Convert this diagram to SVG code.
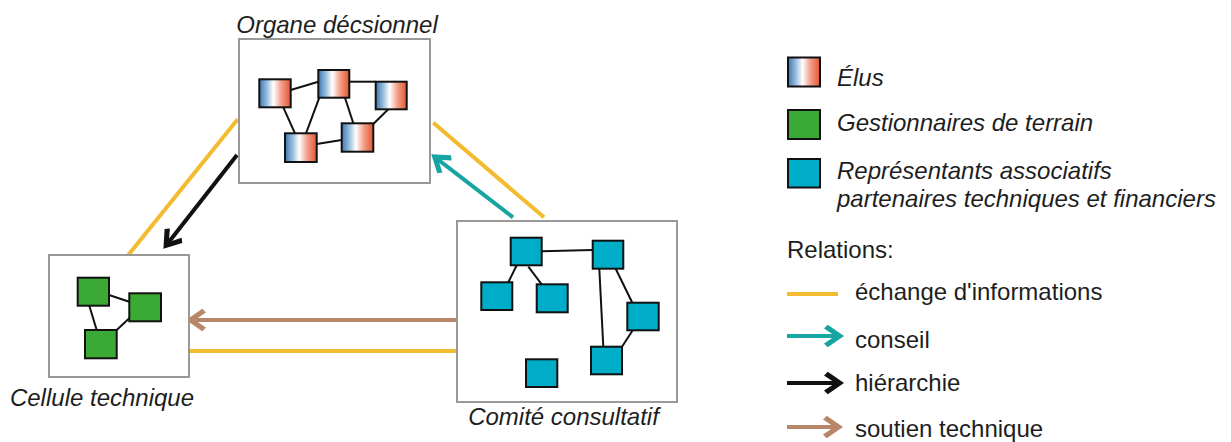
<svg xmlns="http://www.w3.org/2000/svg" width="1231" height="442" viewBox="0 0 1231 442">
<style>
text{font-family:"Liberation Sans",Arial,sans-serif;font-size:24px;fill:#1e1e1e}
.it{font-style:italic}
.box{fill:#fff;stroke:#999;stroke-width:2}
.el{fill:url(#grad);stroke:#111;stroke-width:2}
.gr{fill:#3aaa35;stroke:#111;stroke-width:2}
.tq{fill:#00adc9;stroke:#111;stroke-width:2}
.ln{stroke:#111;stroke-width:2;fill:none}
.y{stroke:#f2bb30;stroke-width:4;fill:none}
.t{stroke:#17a5a1;stroke-width:4;fill:none}
.k{stroke:#111;stroke-width:4;fill:none}
.b{stroke:#b8876a;stroke-width:4;fill:none}
</style>
<defs>
<linearGradient id="grad" x1="0" y1="0" x2="1" y2="0">
<stop offset="0" stop-color="#3a78b4"/>
<stop offset="0.25" stop-color="#9cc0de"/>
<stop offset="0.45" stop-color="#ffffff"/>
<stop offset="0.7" stop-color="#f2a08a"/>
<stop offset="1" stop-color="#e4542f"/>
</linearGradient>
<marker id="aT" markerUnits="userSpaceOnUse" markerWidth="30" markerHeight="30" refX="-4" refY="0" viewBox="-20 -12 24 24" orient="auto"><polygon points="0,0 -13,-9 -16,-6 -7,0 -16,6 -13,9" fill="#17a5a1"/></marker>
<marker id="aK" markerUnits="userSpaceOnUse" markerWidth="30" markerHeight="30" refX="-4" refY="0" viewBox="-20 -12 24 24" orient="auto"><polygon points="0,0 -13,-9 -16,-6 -7,0 -16,6 -13,9" fill="#111"/></marker>
<marker id="aB" markerUnits="userSpaceOnUse" markerWidth="30" markerHeight="30" refX="-4" refY="0" viewBox="-20 -12 24 24" orient="auto"><polygon points="0,0 -13,-9 -16,-6 -7,0 -16,6 -13,9" fill="#b8876a"/></marker>
</defs>

<g id="connectors">
<line class="y" x1="237.7" y1="119.3" x2="128.3" y2="255"/>
<line class="k" x1="237" y1="155" x2="166.5" y2="244.9" marker-end="url(#aK)"/>
<line class="y" x1="433.3" y1="122.7" x2="544" y2="217.3"/>
<line class="t" x1="513" y1="217.3" x2="435.2" y2="157.4" marker-end="url(#aT)"/>
<line class="b" x1="457" y1="320" x2="191" y2="320" marker-end="url(#aB)"/>
<line class="y" x1="189" y1="351" x2="457" y2="351"/>
</g>

<g id="organe">
<rect class="box" x="239" y="39" width="191" height="144"/>
<g class="ln">
<line x1="290.7" y1="90" x2="318.3" y2="81.7"/>
<line x1="283.3" y1="107.3" x2="295" y2="133.3"/>
<line x1="319.3" y1="97.7" x2="306" y2="133.3"/>
<line x1="345" y1="97.7" x2="353.3" y2="123.3"/>
<line x1="349.3" y1="81.7" x2="375.7" y2="81.7"/>
<line x1="388.3" y1="109.3" x2="373.3" y2="124"/>
<line x1="316.7" y1="144" x2="341.7" y2="140"/>
</g>
<rect class="el" x="259.3" y="79.3" width="31.4" height="28"/>
<rect class="el" x="318.3" y="70" width="31" height="27.7"/>
<rect class="el" x="375.7" y="81.7" width="31" height="27.6"/>
<rect class="el" x="285" y="133.3" width="31.7" height="28.7"/>
<rect class="el" x="341.7" y="123.3" width="31.6" height="28.4"/>
<text class="it" x="337" y="33" text-anchor="middle">Organe décsionnel</text>
</g>

<g id="comite">
<rect class="box" x="457" y="221" width="220" height="181"/>
<g class="ln">
<line x1="541.7" y1="251.3" x2="592.7" y2="250"/>
<line x1="516.7" y1="265.3" x2="508.3" y2="282.3"/>
<line x1="528.3" y1="266.7" x2="541.7" y2="284.3"/>
<line x1="599.3" y1="268.7" x2="603.3" y2="346.7"/>
<line x1="615.7" y1="268.7" x2="632.3" y2="302.7"/>
<line x1="632.7" y1="330.3" x2="622" y2="346.7"/>
</g>
<rect class="tq" x="510.7" y="237.7" width="31" height="27.6"/>
<rect class="tq" x="592.7" y="240.7" width="30.6" height="28"/>
<rect class="tq" x="481.3" y="282.3" width="31" height="27.7"/>
<rect class="tq" x="536.7" y="284.3" width="31" height="28"/>
<rect class="tq" x="627.3" y="302.7" width="31.4" height="27.6"/>
<rect class="tq" x="591" y="346.7" width="31" height="27.6"/>
<rect class="tq" x="526" y="359.3" width="31.3" height="27.7"/>
<text class="it" x="563.5" y="425" text-anchor="middle">Comité consultatif</text>
</g>

<g id="cellule">
<rect class="box" x="49" y="255" width="140" height="122"/>
<g class="ln">
<line x1="109" y1="295" x2="129.3" y2="301.7"/>
<line x1="89.3" y1="305.7" x2="96.7" y2="330"/>
<line x1="129.3" y1="318.3" x2="116.7" y2="330"/>
</g>
<rect class="gr" x="77.7" y="277.7" width="31.3" height="28"/>
<rect class="gr" x="129.3" y="293.3" width="31.7" height="28"/>
<rect class="gr" x="85" y="330" width="31.7" height="28.3"/>
<text class="it" x="102" y="406" text-anchor="middle">Cellule technique</text>
</g>

<g id="legend">
<rect class="el" x="788" y="57.5" width="32" height="29"/>
<text class="it" x="837" y="86">Élus</text>
<rect class="gr" x="788" y="110" width="32" height="29"/>
<text class="it" x="837" y="131">Gestionnaires de terrain</text>
<rect class="tq" x="788" y="159" width="32" height="28.5"/>
<text class="it" x="837" y="179">Représentants associatifs</text>
<text class="it" x="837" y="207">partenaires techniques et financiers</text>
<text x="787" y="258">Relations:</text>
<line class="y" x1="787" y1="294" x2="838" y2="294"/>
<text x="855" y="300">échange d'informations</text>
<line class="t" x1="787" y1="336" x2="839" y2="336" marker-end="url(#aT)"/>
<text x="855" y="348">conseil</text>
<line class="k" x1="787" y1="383" x2="839" y2="383" marker-end="url(#aK)"/>
<text x="855" y="391">hiérarchie</text>
<line class="b" x1="787" y1="427" x2="838" y2="427" marker-end="url(#aB)"/>
<text x="855" y="437">soutien technique</text>
</g>
</svg>
